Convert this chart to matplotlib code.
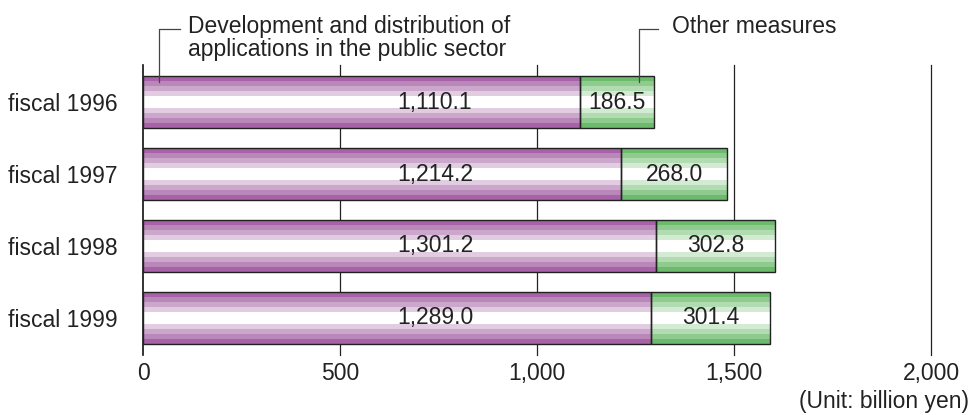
import matplotlib.pyplot as plt

# data
years = ["fiscal 1996", "fiscal 1997", "fiscal 1998", "fiscal 1999"]
public_apps = [1110.1, 1214.2, 1301.2, 1289.0]
other_measures = [186.5, 268.0, 302.8, 301.4]
xticks = [0, 500, 1000, 1500, 2000]
xtick_labels = ["0", "500", "1,000", "1,500", "2,000"]

plt.rcParams['font.family'] = ['Liberation Sans', 'DejaVu Sans']
FS = 16.5
TXT = '#222222'

purple_shades = ['#A862A8', '#B987B9', '#CCA7CC', '#E1CCE1', '#FFFFFF']
green_shades = ['#6CBA6C', '#8FCB8F', '#B1DBB1', '#D3EBD3', '#FFFFFF']
stripe_frac = [1.0, 0.8, 0.61, 0.42, 0.24]
bar_h = 0.72


def striped_barh(ax, y, width, left, shades):
    # nested bars from dark edge to white centre
    for frac, col in zip(stripe_frac, shades):
        ax.barh(y, width, left=left, height=bar_h * frac, color=col,
                edgecolor='none', zorder=2)
    ax.barh(y, width, left=left, height=bar_h, color='none',
            edgecolor='#222222', linewidth=1.0, zorder=3)


fig = plt.figure(figsize=(9.71, 4.15), dpi=100)
ax = fig.add_axes([143 / 971, 1 - 355 / 415, (931 - 143) / 971, (355 - 65) / 415])

ypos = list(range(len(years)))
for i in ypos:
    striped_barh(ax, i, public_apps[i], 0, purple_shades)
    striped_barh(ax, i, other_measures[i], public_apps[i], green_shades)
    ax.text(741, i, f"{public_apps[i]:,.1f}", ha='center', va='center',
            fontsize=FS, color=TXT, zorder=4)
    ax.text(public_apps[i] + other_measures[i] / 2, i, f"{other_measures[i]:,.1f}",
            ha='center', va='center', fontsize=FS, color=TXT, zorder=4)

ax.set_xlim(0, 2000)
ax.set_ylim(3.514, -0.514)
ax.set_yticks(ypos)
ax.set_yticklabels(years, fontsize=FS, color=TXT)
ax.set_xticks(xticks)
ax.set_xticklabels(xtick_labels, fontsize=FS, color=TXT)
ax.tick_params(length=0)
ax.tick_params(axis='y', pad=18)
ax.tick_params(axis='x', pad=5)
for s in ax.spines.values():
    s.set_visible(False)
ax.axvline(0, color='#111111', linewidth=1.2, zorder=1, clip_on=False)
for xv in xticks[1:]:
    ax.axvline(xv, color='#222222', linewidth=0.9, zorder=1, clip_on=False)

# leader annotations
fig.lines.append(plt.Line2D([159 / 971, 159 / 971, 180 / 971],
                            [1 - 82 / 415, 1 - 29 / 415, 1 - 29 / 415],
                            transform=fig.transFigure, color='#444444', lw=0.9, zorder=5))
fig.text(188 / 971, 1 - 33 / 415, "Development and distribution of",
         ha='left', va='baseline', fontsize=FS, color=TXT)
fig.text(188 / 971, 1 - 56 / 415, "applications in the public sector",
         ha='left', va='baseline', fontsize=FS, color=TXT)
fig.lines.append(plt.Line2D([639 / 971, 639 / 971, 658 / 971],
                            [1 - 82 / 415, 1 - 29 / 415, 1 - 29 / 415],
                            transform=fig.transFigure, color='#444444', lw=0.9, zorder=5))
fig.text(672 / 971, 1 - 33 / 415, "Other measures", ha='left', va='baseline',
         fontsize=FS, color=TXT)
fig.text(969 / 971, 1 - 408 / 415, "(Unit: billion yen)", ha='right', va='baseline',
         fontsize=FS, color=TXT)

fig.savefig('out.png', dpi=100)
